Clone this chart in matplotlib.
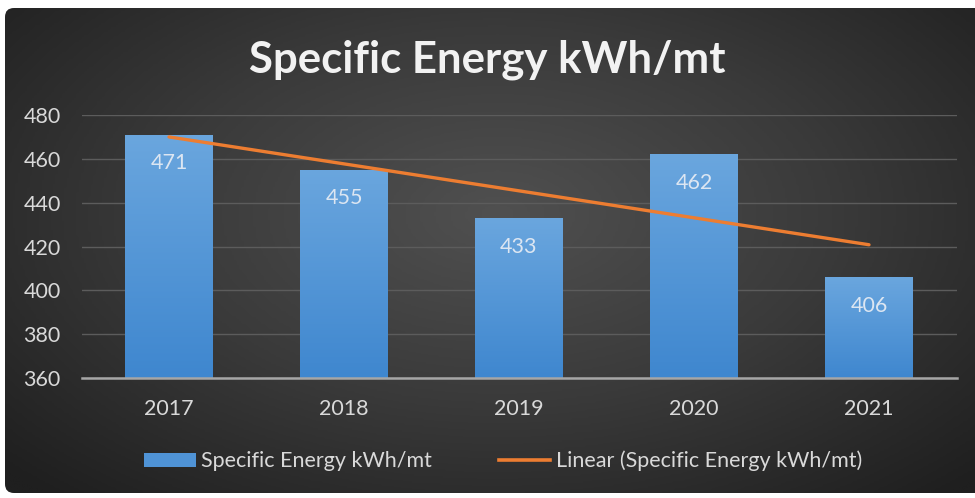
import matplotlib

matplotlib.use("Agg")
import matplotlib.pyplot as plt
import numpy as np
from matplotlib.colors import LinearSegmentedColormap
from matplotlib.lines import Line2D
from matplotlib.patches import FancyBboxPatch, Patch

plt.rcParams["font.family"] = ["Lato", "DejaVu Sans"]

years = ["2017", "2018", "2019", "2020", "2021"]
energy = [471, 455, 433, 462, 406]
y_ticks = [360, 380, 400, 420, 440, 460, 480]

TXT = "#d9d9d9"
BLUE = "#4f93d6"
ORANGE = "#ed7d31"
FS = 15.5

fig = plt.figure(figsize=(9.75, 4.98), dpi=100)
fig.patch.set_facecolor("white")

# dark radial-gradient background card
bg = fig.add_axes([0, 0, 1, 1], zorder=0)
bg.set_xlim(0, 975)
bg.set_ylim(0, 498)
bg.axis("off")
card = FancyBboxPatch((5, 5), 985, 485, boxstyle="round,pad=0,rounding_size=9",
                      fc="none", ec="none", transform=bg.transData)
bg.add_patch(card)
gx, gy = np.meshgrid(np.linspace(-1, 1, 400), np.linspace(-1, 1, 200))
r = np.sqrt((gx / 1.05) ** 2 + ((gy - 0.15) / 1.2) ** 2)
cmap_bg = LinearSegmentedColormap.from_list("bg", ["#505050", "#3a3a3a", "#1f1f1f"])
im = bg.imshow(r, cmap=cmap_bg, extent=[5, 990, 5, 490], origin="lower",
               aspect="auto", vmin=0, vmax=1.3)
im.set_clip_path(card)

ax = fig.add_axes([81.5 / 975, 120 / 498, 875 / 975, 263 / 498], zorder=1)
ax.patch.set_alpha(0)

x = np.arange(len(years))
bars = ax.bar(x, energy, width=0.5, color=BLUE, zorder=2)

# vertical gradient on each bar
cmap_bar = LinearSegmentedColormap.from_list("bar", ["#3f87cf", "#6aa6de"])
grad = np.linspace(0, 1, 100).reshape(-1, 1)
for b in bars:
    x0, w, h = b.get_x(), b.get_width(), b.get_height()
    gi = ax.imshow(grad, cmap=cmap_bar, extent=[x0, x0 + w, 360, h], origin="lower",
                   aspect="auto", zorder=2.5)
    gi.set_clip_path(b)

for xi, v in zip(x, energy):
    ax.text(xi, v - 13, str(v), ha="center", va="center", fontsize=FS,
            color="#dce6f2", zorder=4)

# linear trendline
slope, icpt = np.polyfit(x, energy, 1)
ax.plot(x, slope * x + icpt, color=ORANGE, lw=2.4, zorder=3, solid_capstyle="round")

ax.set_xlim(-0.5, len(years) - 0.5)
ax.set_ylim(360, 480)
ax.set_yticks(y_ticks)
ax.set_xticks(x)
ax.set_xticklabels(years)
ax.tick_params(axis="both", length=0, colors=TXT, labelsize=FS)
ax.tick_params(axis="x", pad=15)
ax.tick_params(axis="y", pad=15)
ax.grid(axis="y", color="#5c5c5c", lw=1, zorder=1)
for s in ["top", "right", "left"]:
    ax.spines[s].set_visible(False)
ax.spines["bottom"].set_color("#a6a6a6")
ax.spines["bottom"].set_linewidth(1.8)
ax.spines["bottom"].set_zorder(3)

fig.text(0.5, 438 / 498, "Specific Energy kWh/mt", ha="center", va="center",
         fontsize=31.5, fontweight="bold", color="#f2f2f2")

handles = [Patch(facecolor=BLUE, edgecolor="none"),
           Line2D([0], [0], color=ORANGE, lw=2.6)]
labels = ["Specific Energy kWh/mt", "Linear (Specific Energy kWh/mt)"]
leg = fig.legend(handles, labels, loc="center", bbox_to_anchor=(0.516, 37 / 498),
                 ncol=2, frameon=False, fontsize=FS, labelcolor=TXT,
                 handlelength=2.4, handleheight=0.65, handletextpad=0.25,
                 columnspacing=3.1)

fig.savefig("out.png", dpi=100, facecolor=fig.get_facecolor())
